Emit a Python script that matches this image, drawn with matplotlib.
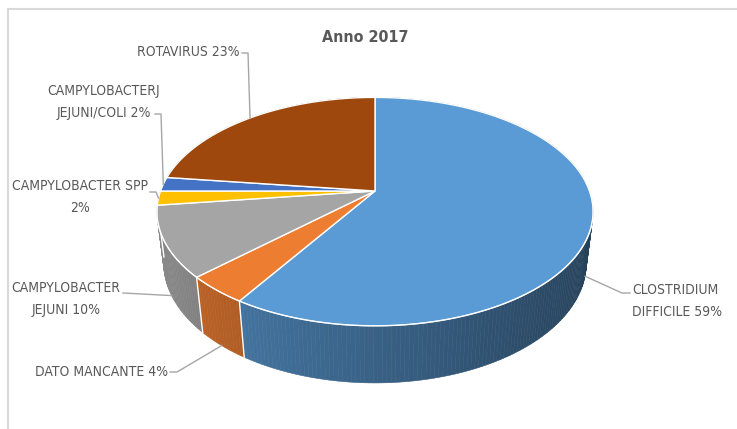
import numpy as np
import matplotlib.pyplot as plt
from matplotlib import font_manager
from matplotlib.font_manager import FontProperties
from matplotlib.patches import Polygon
from matplotlib.colors import to_rgb

# Data
names = ['CLOSTRIDIUM\nDIFFICILE', 'DATO MANCANTE', 'CAMPYLOBACTER\nJEJUNI',
         'CAMPYLOBACTER SPP', 'CAMPYLOBACTERJ\nJEJUNI/COLI', 'ROTAVIRUS']
values = [59, 4, 10, 2, 2, 23]
pct_sep = [' ', ' ', ' ', '\n', ' ', ' ']
colors = ['#5B9BD5', '#ED7D31', '#A5A5A5', '#FFC000', '#4472C4', '#9E480E']
title = 'Anno 2017'

# Label placement (pixels): position, alignment, leader path, anchor height
label_pos = [(632, 301), (168, 372), (66, 299), (80, 197), (104, 102), (240, 52)]
label_ha = ['left', 'right', 'center', 'center', 'center', 'right']
leader_pts = [[(630, 293), (622, 293)], [(170, 372), (177, 372)], [(123, 293)],
              [(150, 192), (156, 192)], [(155, 114), (161, 114)], [(242, 53), (248, 53)]]
anchor_z = [-1, -1, -1, 0, 0, 0]

# 3D pie camera
ELEV = np.radians(31)
DIST = 4.75
DEPTH = 0.287
SCALE = 1019
CX, CY = 375, 191


def project(x, y, z):
    den = DIST + y * np.cos(ELEV) - z * np.sin(ELEV)
    px = CX + SCALE * x / den
    py = CY - SCALE * (y * np.sin(ELEV) + z * np.cos(ELEV)) / den
    return px, py, den


def rim(theta, z):
    return project(np.cos(theta), np.sin(theta), z)


def shade(col, theta):
    f = np.clip(0.628 + 0.212 * (-np.cos(theta)), 0, 1)
    return tuple(c * f for c in to_rgb(col))


# narrow font if one is installed, otherwise Liberation Sans at a smaller size
font_names = {f.name for f in font_manager.fontManager.ttflist}
cond = font_manager.findfont(FontProperties(family='DejaVu Sans', stretch='condensed'))
if 'Liberation Sans Narrow' in font_names:
    FONT, STRETCH, FS, TS = 'Liberation Sans Narrow', 'normal', 11.3, 13.0
elif 'Condensed' in cond:
    FONT, STRETCH, FS, TS = 'DejaVu Sans', 'condensed', 10.0, 11.5
else:
    FONT, STRETCH, FS, TS = 'Liberation Sans', 'normal', 9.6, 11.5

fig = plt.figure(figsize=(7.37, 4.29), dpi=100)
ax = fig.add_axes([0, 0, 1, 1])
ax.set_xlim(0, 737)
ax.set_ylim(429, 0)
ax.axis('off')

# chart frame
ax.plot([7, 737], [9, 9], color='#D9D9D9', lw=1.5, solid_capstyle='butt')
ax.plot([8, 8], [9, 429], color='#D9D9D9', lw=1.5, solid_capstyle='butt')

cum = np.concatenate([[0], np.cumsum(values)])
bounds = np.radians(90 - 360 * cum / cum[-1])

# side wall, painted back to front
quads = []
for i, col in enumerate(colors):
    t0, t1 = bounds[i], bounds[i + 1]
    n = max(4, int(abs(np.degrees(t1 - t0))))
    ts = np.linspace(t0, t1, n + 1)
    for a, b in zip(ts[:-1], ts[1:]):
        xa, ya, da = rim(a, 0)
        xb, yb, db = rim(b, 0)
        xc, yc, _ = rim(b, -DEPTH)
        xd, yd, _ = rim(a, -DEPTH)
        fc = shade(col, (a + b) / 2)
        quads.append(((da + db) / 2, [(xa, ya), (xb, yb), (xc, yc), (xd, yd)], fc))
quads.sort(key=lambda q: -q[0])
for _, pts, fc in quads:
    ax.add_patch(Polygon(pts, closed=True, fc=fc, ec=fc, lw=0.4, zorder=1))

for t in bounds[1:-1]:
    x0, y0, _ = rim(t, 0)
    x1, y1, _ = rim(t, -DEPTH)
    ax.plot([x0, x1], [y0, y1], color='white', lw=1, zorder=2)

# top face
cx0, cy0, _ = project(0, 0, 0)
for i, col in enumerate(colors):
    ts = np.linspace(bounds[i], bounds[i + 1], 200)
    px, py, _ = rim(ts, 0)
    pts = [(cx0, cy0)] + list(zip(px, py))
    ax.add_patch(Polygon(pts, closed=True, fc=col, ec='white', lw=1, zorder=3))

ts = np.linspace(np.radians(-185), np.radians(5), 200)
px, py, _ = rim(ts, 0)
ax.plot(px, py, color='white', lw=0.8, alpha=0.8, zorder=4)

# labels and leader lines
for i in range(len(values)):
    mid = (bounds[i] + bounds[i + 1]) / 2
    axp, ayp, _ = rim(mid, anchor_z[i] * DEPTH)
    path = leader_pts[i] + [(axp, ayp)]
    ax.plot([p[0] for p in path], [p[1] for p in path], color='#A6A6A6', lw=1, zorder=5)
    txt = f'{names[i]}{pct_sep[i]}{values[i]}%'
    ax.text(label_pos[i][0], label_pos[i][1], txt, ha=label_ha[i], va='center',
            multialignment=label_ha[i], family=FONT, stretch=STRETCH, fontsize=FS,
            color='#595959', linespacing=1.65, zorder=6)

ax.text(365, 37, title, ha='center', va='center', family=FONT, stretch=STRETCH,
        fontsize=TS, fontweight='bold', color='#595959')

fig.savefig('out.png', dpi=100)
